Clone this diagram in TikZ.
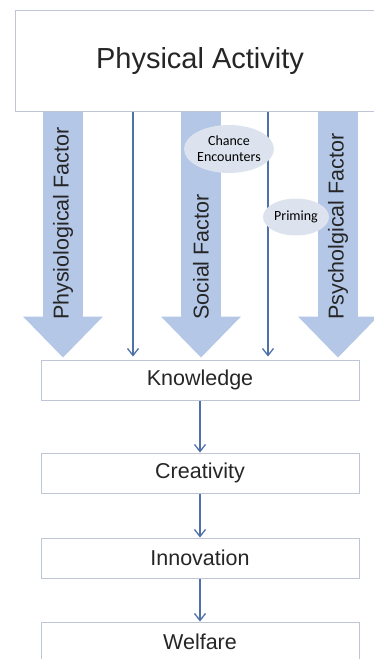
\documentclass[tikz,border=0pt]{standalone}
\usepackage{fontspec}
\setmainfont{Liberation Sans}
\newfontfamily\bubblefont{Carlito}
\usetikzlibrary{positioning,shapes.geometric,arrows.meta}

\definecolor{boxgray}{RGB}{190,198,214}
\definecolor{factorblue}{RGB}{180,199,231}
\definecolor{flowblue}{RGB}{79,112,168}
\definecolor{bubblefill}{RGB}{221,227,238}
\definecolor{textgray}{RGB}{38,38,38}

\begin{document}
\begin{tikzpicture}[x=1pt,y=-1pt]
  \tikzset{
    node distance=44pt,
    stage/.style={draw=boxgray,line width=1pt,fill=white,text=textgray,
      minimum width=318pt,minimum height=40pt,inner sep=0pt,
      font=\fontsize{21.5}{24}\selectfont},
    factorlbl/.style={rotate=90,anchor=west,inner sep=0pt,text=textgray,
      font=\fontsize{21.5}{24}\selectfont},
    factor/.style={draw=factorblue,line width=40pt,shorten >=2pt,
      -{Triangle[line width=0pt,length=41pt,width=80pt]}},
    bubble/.style={ellipse,fill=bubblefill,inner sep=0pt,align=center,
      font=\bubblefont\fontsize{14}{16}\selectfont},
    flow/.style={draw=flowblue,line width=1.3pt,
      -{Straight Barb[length=7pt,width=11pt]}}
  }
  \useasboundingbox (0,0) rectangle (374,659);

  \node[stage,minimum width=370pt,minimum height=101pt,
    font=\fontsize{29}{33}\selectfont] (pa) at (200,60.5) {Physical Activity};
  \node[stage] (know) at (200,380) {Knowledge};
  \node[stage,below=52pt of know] (crea) {Creativity};
  \node[stage,below=of crea] (inno) {Innovation};
  \node[stage,below=43pt of inno] (welf) {Welfare};

  % the three factors
  \foreach \x/\name/\id in {63/Physiological Factor/phys,
      201/Social Factor/soc,338/Psycholgical Factor/psy}{
    \coordinate (\id) at (\x,0);
    \draw[factor] (pa.south -| \id) -- (know.north -| \id);
    \node[factorlbl] (\id lbl) at (\x,320) {\name};
  }

  % direct links
  \coordinate (d1) at (133,0);
  \coordinate (d2) at (268,0);
  \draw[flow,shorten >=3pt] (pa.south -| d1) -- (know.north -| d1);
  \draw[flow,shorten >=3pt] (pa.south -| d2) -- (know.north -| d2);

  \node[bubble,minimum width=78pt,minimum height=48pt] (chance) at (229,149) {Chance\\Encounters};
  \node[bubble,minimum width=66pt,minimum height=37pt] (priming) at (296,217) {Priming};

  \draw[flow] (know) edge (crea)
              (crea) edge (inno)
              (inno) edge (welf);
\end{tikzpicture}
\end{document}
